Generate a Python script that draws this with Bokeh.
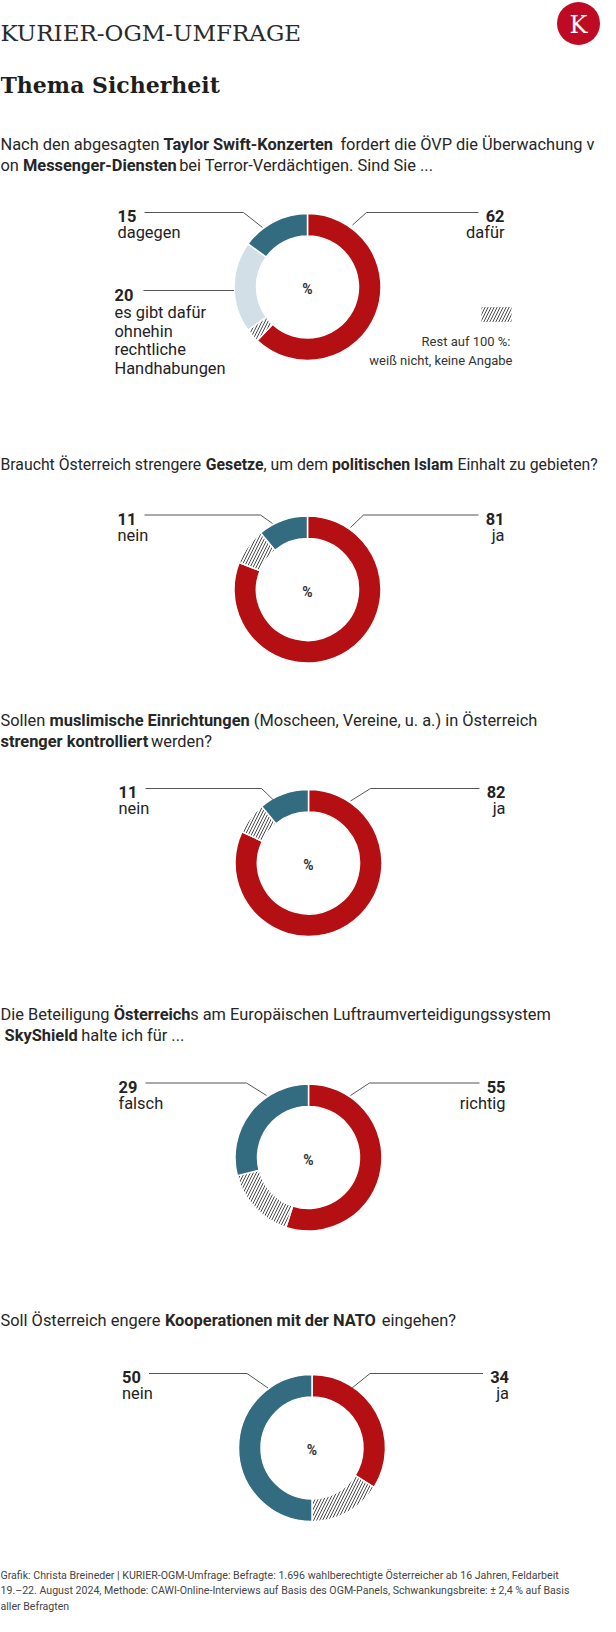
import math
from bokeh.plotting import figure
from bokeh.models import Range1d, ColumnDataSource
from bokeh.core.properties import value
from bokeh.embed import file_html
from bokeh.resources import INLINE

# ---------------- data ----------------
q1_categories = ["dafür", "weiß nicht, keine Angabe",
                 "es gibt dafür\nohnehin\nrechtliche\nHandhabungen", "dagegen"]
q1_values = [62, 3, 20, 15]
q2_categories = ["ja", "weiß nicht, keine Angabe", "nein"]
q2_values = [81, 8, 11]
q3_categories = ["ja", "weiß nicht, keine Angabe", "nein"]
q3_values = [82, 7, 11]
q4_categories = ["richtig", "weiß nicht, keine Angabe", "falsch"]
q4_values = [55, 16, 29]
q5_categories = ["ja", "weiß nicht, keine Angabe", "nein"]
q5_values = [34, 16, 50]

header_title = "KURIER-OGM-UMFRAGE"
header_subtitle = "Thema Sicherheit"
logo_letter = "K"
center_unit = "%"
legend_lines = ["Rest auf 100 %:", "weiß nicht, keine Angabe"]
footer_lines = [
    "Grafik: Christa Breineder | KURIER-OGM-Umfrage: Befragte: 1.696 wahlberechtigte Österreicher ab 16 Jahren, Feldarbeit",
    "19.\u201322. August 2024,  Methode: CAWI-Online-Interviews auf Basis des OGM-Panels, Schwankungsbreite: \u00b1 2,4 % auf Basis",
    "aller Befragten",
]

# question texts: lines of (segment, bold)
q1_text = [[("Nach den abgesagten ", False), ("Taylor Swift-Konzerten", True),
            ("  fordert die ÖVP die Überwachung v", False)],
           [("on ", False), ("Messenger-Diensten", True),
            (" bei Terror-Verdächtigen. Sind Sie ...", False)]]
q2_text = [[("Braucht Österreich strengere ", False), ("Gesetze", True), (", um dem ", False),
            ("politischen Islam", True), (" Einhalt zu gebieten?", False)]]
q3_text = [[("Sollen ", False), ("muslimische Einrichtungen", True),
            (" (Moscheen, Vereine, u. a.) in Österreich", False)],
           [("strenger kontrolliert", True), (" werden?", False)]]
q4_text = [[("Die Beteiligung ", False), ("Österreich", True),
            ("s am Europäischen Luftraumverteidigungssystem", False)],
           [(" SkyShield", True), (" halte ich für ...", False)]]
q5_text = [[("Soll Österreich engere ", False), ("Kooperationen mit der NATO", True),
            (" eingehen?", False)]]

# ---------------- style ----------------
RED = "#B40F12"
BLUE = "#336B81"
LIGHT = "#D3DFE7"
WHITE = "#FFFFFF"
TXT = "#222222"
LEAD = "#555555"
FONT = "Roboto"
SERIF = "DejaVu Serif"
R_OUT, R_IN = 73.5, 51
QSIZE = 16.4
WIDTH_FUDGE = 1.02

# approximate Roboto advance widths (units per em = 2048), used to chain text runs
_REG = dict(zip(" ,-.?()|:%\u2013\u00b1",
                [507, 393, 553, 527, 945, 684, 696, 498, 485, 1465, 1130, 1090]))
_REG.update(dict(zip("ABCDEFGHIJKLMNOPQRSTUVWXYZ",
                     [1336, 1275, 1333, 1343, 1164, 1132, 1395, 1460, 557, 1130, 1284, 1102, 1788,
                      1460, 1408, 1292, 1408, 1260, 1218, 1222, 1328, 1303, 1817, 1284, 1229, 1226])))
_REG.update(dict(zip("abcdefghijklmnopqrstuvwxyz",
                     [1087, 1122, 1046, 1128, 1058, 694, 1122, 1102, 486, 478, 1014, 486, 1754,
                      1104, 1141, 1122, 1128, 677, 1032, 654, 1102, 968, 1502, 991, 945, 991])))
_REG.update({"Ö": 1408, "Ü": 1328, "ä": 1087, "ö": 1141, "ü": 1102, "ß": 1190})
_BOLD = {k: v * 1.01 for k, v in _REG.items()}
_BOLD.update(dict(zip("GIKMNOSTaefiklrstuvyz",
                      [1378, 580, 1290, 1794, 1434, 1392, 1230, 1254, 1092, 1072, 708, 526, 1060,
                       526, 704, 1052, 672, 1108, 1000, 990, 1020])))
_BOLD.update({" ": 498, "Ö": 1392, "-": 566, ",": 434})


def text_width(s, size, bold=False):
    tab = _BOLD if bold else _REG
    return sum(tab.get(ch, 1100) for ch in s) / 2048.0 * size * WIDTH_FUDGE


charts = [
    dict(values=q1_values, cats=q1_categories, colors=[RED, WHITE, LIGHT, BLUE],
         hatch=[" ", "/", " ", " "], cx=307, cy=302.5,
         lb=(-64, -45, -59.5), rb=(59, 45, -62), text=q1_text, ty=[160, 181]),
    dict(values=q2_values, cats=q2_categories, colors=[RED, WHITE, BLUE],
         hatch=[" ", "/", " "], cx=307, cy=605,
         lb=(-47, -35, -66), rb=(56, 43, -62), text=q2_text, ty=[480]),
    dict(values=q3_values, cats=q3_categories, colors=[RED, WHITE, BLUE],
         hatch=[" ", "/", " "], cx=308, cy=878.5,
         lb=(-47, -34, -62), rb=(62, 42, -62), text=q3_text, ty=[736, 757]),
    dict(values=q4_values, cats=q4_categories, colors=[RED, WHITE, BLUE],
         hatch=[" ", "/", " "], cx=308, cy=1173,
         lb=(-62, -42, -62), rb=(61, 42, -62), text=q4_text, ty=[1030, 1051]),
    dict(values=q5_values, cats=q5_categories, colors=[RED, WHITE, BLUE],
         hatch=[" ", "/", " "], cx=311.5, cy=1463.5,
         lb=(-65, -44, -60), rb=(58, 40, -60), text=q5_text, ty=[1336]),
]

p = figure(width=600, height=1616, x_range=Range1d(0, 600), y_range=Range1d(1632, 16),
           output_backend="svg", toolbar_location=None, min_border=0)
p.axis.visible = False
p.grid.visible = False
p.outline_line_color = None
p.background_fill_color = "white"
p.border_fill_color = "white"


def txt(xs, ys, texts, size, bold=False, align="left", color=TXT, font=FONT, baseline="alphabetic"):
    p.text(x=xs, y=ys, text=texts, text_font=value(font), text_font_size=size,
           text_font_style="bold" if bold else "normal", text_align=align,
           text_baseline=baseline, text_color=color)


# header
txt([0], [48], [header_title], "23px", font=SERIF, color="#2a2a2a")
txt([0], [100], [header_subtitle], "22px", bold=True, font=SERIF, color="#1e1e1e")
p.circle(x=[578], y=[39], radius=21.5, radius_units="screen", fill_color="#BE0A22", line_color=None)
txt([578], [40], [logo_letter], "24px", font=SERIF, color="white", align="center", baseline="middle")

lead_xs, lead_ys = [], []
for c in charts:
    cx, cy = c["cx"], c["cy"]
    vals = c["values"]
    starts, ends, cum = [], [], 0
    for v in vals:
        a0 = cum
        cum += v
        starts.append(math.pi / 2 - 2 * math.pi * cum / 100)
        ends.append(math.pi / 2 - 2 * math.pi * a0 / 100)
    src = ColumnDataSource(dict(x=[cx] * len(vals), y=[cy] * len(vals), start=starts, end=ends,
                                color=c["colors"], hatch=c["hatch"]))
    p.annular_wedge(x="x", y="y", inner_radius=R_IN, outer_radius=R_OUT,
                    inner_radius_units="screen", outer_radius_units="screen",
                    start_angle="start", end_angle="end", fill_color="color",
                    line_color="white", line_width=1.5, hatch_pattern="hatch",
                    hatch_color="#4a4a4a", hatch_scale=6, hatch_weight=1, source=src)
    txt([cx], [cy + 2], [center_unit], "14px", bold=True, align="center", baseline="middle", color="#333333")

    txt([cx + 197], [cy - 71], [str(vals[0])], "16.4px", bold=True, align="right")
    txt([cx + 197], [cy - 54.5], [c["cats"][0]], "16.4px", align="right")
    txt([cx - 190], [cy - 71], [str(vals[-1])], "16.4px", bold=True)
    txt([cx - 190], [cy - 54.5], [c["cats"][-1]], "16.4px")

    lb, rb = c["lb"], c["rb"]
    lead_xs.append([cx - 163, cx + lb[0], cx + lb[1]])
    lead_ys.append([cy - 74.5, cy - 74.5, cy + lb[2]])
    lead_xs.append([cx + 171, cx + rb[0], cx + rb[1]])
    lead_ys.append([cy - 74.5, cy - 74.5, cy + rb[2]])

    # question text: chain runs of regular / bold text
    for line, yb in zip(c["text"], c["ty"]):
        total = sum(text_width(s, QSIZE, b) for s, b in line)
        size = QSIZE if total <= 597 else QSIZE * 597 / total
        x = 0.0
        for seg, bold in line:
            lead = len(seg) - len(seg.lstrip(" "))
            xs = x + text_width(" " * lead, size, bold)
            txt([xs], [yb], [seg.strip(" ")], "%.2fpx" % size, bold=bold, color="#262626")
            x += text_width(seg, size, bold)

# extra label in first chart (light blue segment)
c0 = charts[0]
txt([c0["cx"] - 193], [c0["cy"] + 7.5], [str(q1_values[2])], "16.4px", bold=True)
for i, ln in enumerate(q1_categories[2].split("\n")):
    txt([c0["cx"] - 193], [c0["cy"] + 25.5 + i * 18.7], [ln], "16.4px")
lead_xs.append([c0["cx"] - 164, c0["cx"] - R_OUT])
lead_ys.append([c0["cy"] + 3.5, c0["cy"] + 3.5])

p.multi_line(xs=lead_xs, ys=lead_ys, line_color=LEAD, line_width=1)

# legend for remainder
p.rect(x=[496], y=[330], width=30, height=15, width_units="screen", height_units="screen",
       fill_alpha=0, line_color=None, hatch_pattern="/", hatch_color="#4a4a4a",
       hatch_scale=6, hatch_weight=1)
txt([510], [357], [legend_lines[0]], "13px", align="right", color="#333333")
txt([512], [376], [legend_lines[1]], "13px", align="right", color="#333333")

# footer
for i, ln in enumerate(footer_lines):
    txt([0], [1590.5 + i * 15.8], [ln], "10.6px", color="#444444")

open("out.html", "w").write(file_html(p, INLINE))
